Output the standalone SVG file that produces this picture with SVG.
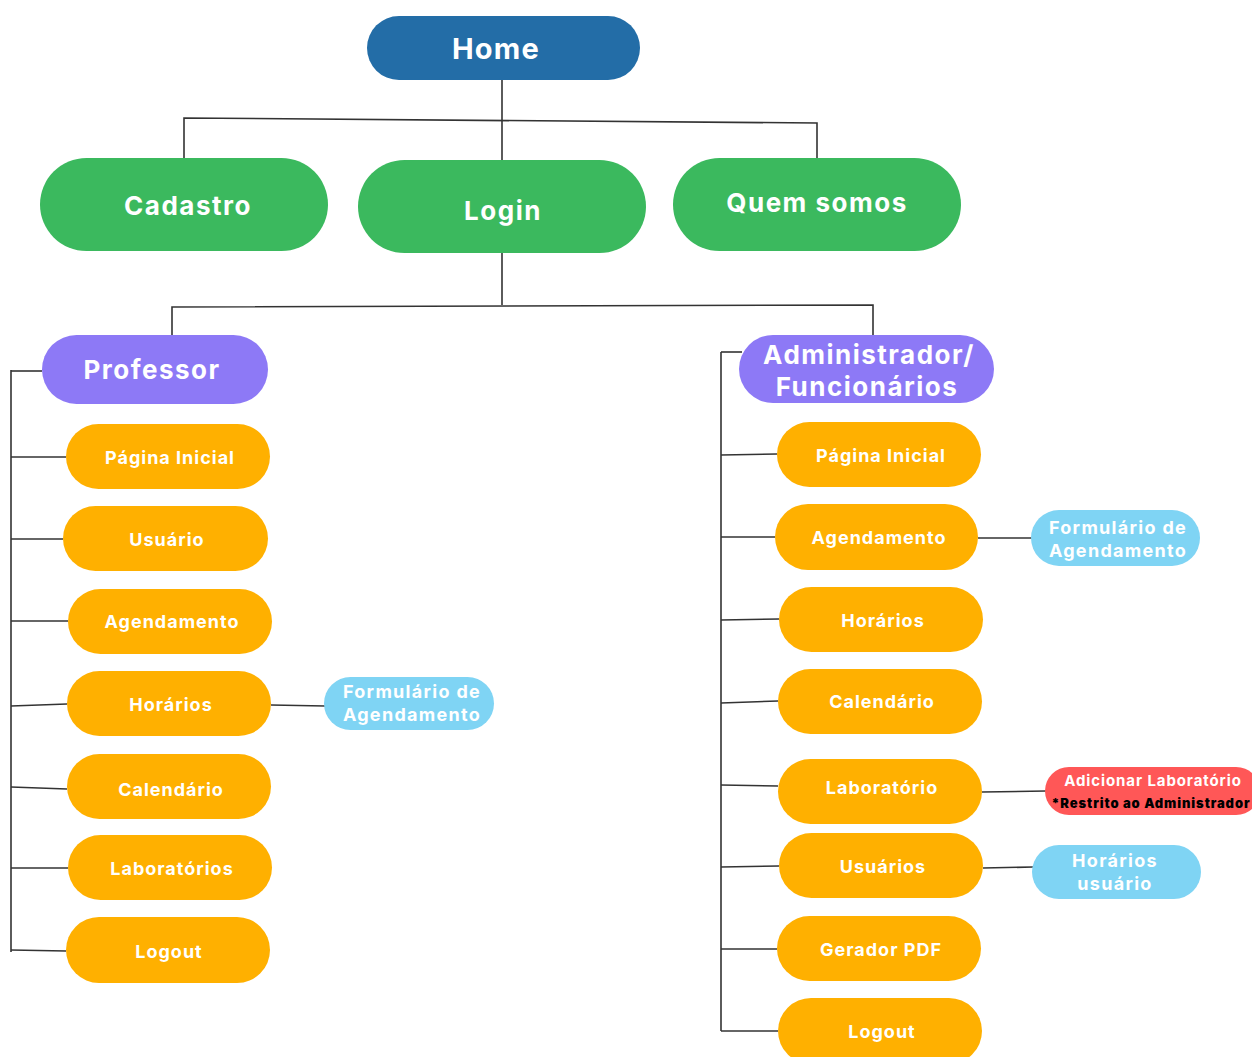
<svg xmlns="http://www.w3.org/2000/svg" width="1252" height="1057" viewBox="0 0 1252 1057">
<style>
text{font-family:Inter,"Noto Sans","Liberation Sans",sans-serif;font-weight:700;text-anchor:middle;dominant-baseline:central;fill:#fff}
.home{fill:#236DA7}
.green{fill:#3BB95E}
.purple{fill:#8D79F6}
.orange{fill:#FFB000}
.blue{fill:#7FD4F4}
.red{fill:#FF5757}
.t1{font-size:29px;letter-spacing:1.2px}
.t2{font-size:26px;letter-spacing:1.5px}
.t3{font-size:18px;letter-spacing:1px}
.t4{font-size:18px;letter-spacing:1.3px}
.conn{stroke:#333;stroke-width:1.6;fill:none}
</style>
<rect width="1252" height="1057" fill="#fff"/>
<g id="connectors" class="conn">
<path d="M502,80 V160"/>
<path d="M184,158 V118 L817,123 V158"/>
<path d="M502,253 V305"/>
<path d="M172,335 V307 L873,305 V335"/>
<path d="M11,370 V952"/>
<path d="M11,371 H42"/>
<path d="M11,457 H66"/>
<path d="M11,539 H63"/>
<path d="M11,621 H68"/>
<path d="M11,706 L67,704"/>
<path d="M11,787 L67,789"/>
<path d="M11,868 H68"/>
<path d="M11,950 L66,951"/>
<path d="M271,705 L325,706"/>
<path d="M721,352 V1031"/>
<path d="M721,352 H742"/>
<path d="M721,455 L777,454"/>
<path d="M721,537 H775"/>
<path d="M721,620 L779,619"/>
<path d="M721,703 L778,701"/>
<path d="M721,785 L778,786"/>
<path d="M721,867 L779,866"/>
<path d="M721,949 H777"/>
<path d="M721,1031 H778"/>
<path d="M978,538 H1032"/>
<path d="M982,792 L1046,791"/>
<path d="M983,868 L1033,867"/>
</g>
<g id="home"><rect class="home" x="367" y="16" width="273" height="64" rx="32"/><text class="t1" x="496" y="48">Home</text></g>
<g id="cadastro"><rect class="green" x="40" y="158" width="288" height="93" rx="46.5"/><text class="t2" x="188" y="205">Cadastro</text></g>
<g id="login"><rect class="green" x="358" y="160" width="288" height="93" rx="46.5"/><text class="t2" x="503" y="210">Login</text></g>
<g id="quem-somos"><rect class="green" x="673" y="158" width="288" height="93" rx="46.5"/><text class="t2" x="817" y="202">Quem somos</text></g>
<g id="professor"><rect class="purple" x="42" y="335" width="226" height="69" rx="34.5"/><text class="t2" x="152" y="369">Professor</text></g>
<g id="administrador"><rect class="purple" x="739" y="335" width="255" height="68" rx="34"/><text class="t2" x="869" y="354">Administrador/</text><text class="t2" x="867" y="386">Funcionários</text></g>
<g id="p-pagina-inicial"><rect class="orange" x="66" y="424" width="204" height="65" rx="32.5"/><text class="t3" x="170" y="457">Página Inicial</text></g>
<g id="p-usuario"><rect class="orange" x="63" y="506" width="205" height="65" rx="32.5"/><text class="t3" x="167" y="539">Usuário</text></g>
<g id="p-agendamento"><rect class="orange" x="68" y="589" width="204" height="65" rx="32.5"/><text class="t3" x="172" y="621">Agendamento</text></g>
<g id="p-horarios"><rect class="orange" x="67" y="671" width="204" height="65" rx="32.5"/><text class="t3" x="171" y="704">Horários</text></g>
<g id="p-calendario"><rect class="orange" x="67" y="754" width="204" height="65" rx="32.5"/><text class="t3" x="171" y="789">Calendário</text></g>
<g id="p-laboratorios"><rect class="orange" x="68" y="835" width="204" height="65" rx="32.5"/><text class="t3" x="172" y="868">Laboratórios</text></g>
<g id="p-logout"><rect class="orange" x="66" y="917" width="204" height="66" rx="33"/><text class="t3" x="169" y="951">Logout</text></g>
<g id="p-formulario"><rect class="blue" x="324" y="677" width="170" height="53" rx="26.5"/><text class="t4" x="412" y="691">Formulário de</text><text class="t4" x="412" y="714">Agendamento</text></g>
<g id="a-pagina-inicial"><rect class="orange" x="777" y="422" width="204" height="65" rx="32.5"/><text class="t3" x="881" y="455">Página Inicial</text></g>
<g id="a-agendamento"><rect class="orange" x="775" y="504" width="203" height="66" rx="33"/><text class="t3" x="879" y="537">Agendamento</text></g>
<g id="a-horarios"><rect class="orange" x="779" y="587" width="204" height="65" rx="32.5"/><text class="t3" x="883" y="620">Horários</text></g>
<g id="a-calendario"><rect class="orange" x="778" y="669" width="204" height="65" rx="32.5"/><text class="t3" x="882" y="701">Calendário</text></g>
<g id="a-laboratorio"><rect class="orange" x="778" y="759" width="204" height="65" rx="32.5"/><text class="t3" x="882" y="787">Laboratório</text></g>
<g id="a-usuarios"><rect class="orange" x="779" y="833" width="204" height="65" rx="32.5"/><text class="t3" x="883" y="866">Usuários</text></g>
<g id="a-gerador-pdf"><rect class="orange" x="777" y="916" width="204" height="65" rx="32.5"/><text class="t3" x="881" y="949">Gerador PDF</text></g>
<g id="a-logout"><rect class="orange" x="778" y="998" width="204" height="66" rx="33"/><text class="t3" x="882" y="1031">Logout</text></g>
<g id="a-formulario"><rect class="blue" x="1031" y="510" width="169" height="56" rx="28"/><text class="t4" x="1118" y="527">Formulário de</text><text class="t4" x="1118" y="550">Agendamento</text></g>
<g id="a-adicionar-laboratorio"><rect class="red" x="1045" y="767" width="215" height="48" rx="24"/><text x="1153" y="780" style="font-size:15px;letter-spacing:0.9px">Adicionar Laboratório</text><text x="1151" y="803" style="font-size:13px;fill:#000;font-weight:900;letter-spacing:0.9px">*Restrito ao Administrador</text></g>
<g id="a-horarios-usuario"><rect class="blue" x="1032" y="845" width="169" height="54" rx="27"/><text class="t4" x="1115" y="860">Horários</text><text class="t4" x="1115" y="883">usuário</text></g>
</svg>
